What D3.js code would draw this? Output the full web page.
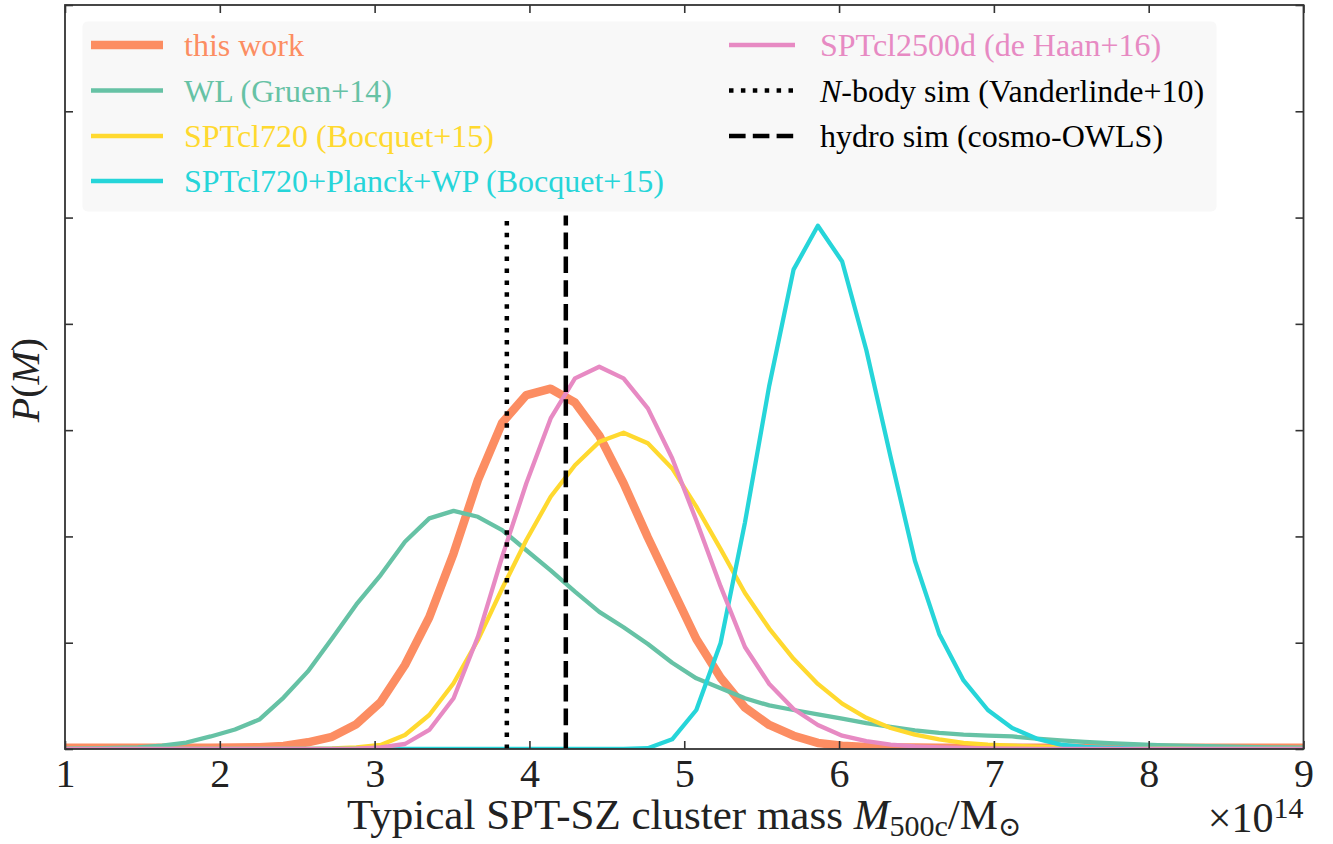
<!DOCTYPE html>
<html>
<head>
<meta charset="utf-8">
<script src="https://cdn.jsdelivr.net/npm/d3@7"></script>
<style>
  body { margin: 0; background: #fff; }
  text { font-family: "Liberation Serif", "DejaVu Serif", serif; }
</style>
</head>
<body>
<div id="chart"></div>
<script>

// ---------- DATA ----------

// mass grid in units of 1e14 Msun
var massGrid = [1.000, 1.157, 1.314, 1.471, 1.627, 1.784, 1.941, 2.098, 2.255, 2.412,
  2.569, 2.725, 2.882, 3.039, 3.196, 3.353, 3.510, 3.667, 3.824, 3.980,
  4.137, 4.294, 4.451, 4.608, 4.765, 4.922, 5.078, 5.235, 5.392, 5.549,
  5.706, 5.863, 6.020, 6.176, 6.333, 6.490, 6.647, 6.804, 6.961, 7.118,
  7.275, 7.431, 7.588, 7.745, 7.902, 8.059, 8.216, 8.373, 8.529, 8.686,
  8.843, 9.000];

var thisWork = [0.012, 0.012, 0.012, 0.012, 0.012, 0.012, 0.012, 0.013, 0.016, 0.028,
  0.063, 0.115, 0.233, 0.442, 0.790, 1.240, 1.840, 2.530, 3.070, 3.330,
  3.390, 3.260, 2.950, 2.500, 1.990, 1.510, 1.035, 0.670, 0.390, 0.226,
  0.125, 0.057, 0.031, 0.020, 0.015, 0.013, 0.012, 0.012, 0.012, 0.012,
  0.012, 0.012, 0.012, 0.012, 0.012, 0.012, 0.012, 0.012, 0.012, 0.012,
  0.012, 0.012];

var wlGruen = [0.004, 0.006, 0.010, 0.016, 0.032, 0.061, 0.118, 0.183, 0.277, 0.484,
  0.730, 1.040, 1.360, 1.637, 1.950, 2.170, 2.240, 2.185, 2.060, 1.870,
  1.680, 1.480, 1.290, 1.145, 0.988, 0.812, 0.665, 0.571, 0.477, 0.410,
  0.367, 0.326, 0.286, 0.243, 0.209, 0.175, 0.151, 0.135, 0.125, 0.118,
  0.098, 0.082, 0.068, 0.056, 0.045, 0.037, 0.031, 0.026, 0.021, 0.017,
  0.014, 0.012];

var sptcl720 = [0.000, 0.000, 0.000, 0.000, 0.000, 0.000, 0.000, 0.000, 0.000, 0.000,
  0.002, 0.006, 0.016, 0.038, 0.132, 0.320, 0.618, 1.025, 1.510, 1.966,
  2.373, 2.670, 2.890, 2.976, 2.876, 2.640, 2.280, 1.880, 1.467, 1.133,
  0.848, 0.612, 0.427, 0.293, 0.198, 0.135, 0.091, 0.058, 0.041, 0.031,
  0.022, 0.016, 0.012, 0.009, 0.006, 0.004, 0.003, 0.002, 0.001, 0.001,
  0.001, 0.001];

var sptcl720Planck = [0.000, 0.000, 0.000, 0.000, 0.000, 0.000, 0.000, 0.000, 0.000, 0.000,
  0.000, 0.000, 0.000, 0.000, 0.000, 0.000, 0.000, 0.000, 0.000, 0.000,
  0.000, 0.000, 0.000, 0.000, 0.008, 0.091, 0.367, 0.998, 2.130, 3.418,
  4.510, 4.923, 4.587, 3.754, 2.747, 1.771, 1.083, 0.645, 0.367, 0.198,
  0.098, 0.041, 0.020, 0.010, 0.005, 0.002, 0.001, 0.001, 0.001, 0.001,
  0.001, 0.001];

var sptcl2500d = [0.000, 0.000, 0.000, 0.000, 0.000, 0.000, 0.000, 0.000, 0.000, 0.000,
  0.000, 0.000, 0.004, 0.016, 0.047, 0.179, 0.477, 1.056, 1.810, 2.500,
  3.110, 3.487, 3.597, 3.487, 3.205, 2.735, 2.150, 1.530, 0.960, 0.612,
  0.377, 0.226, 0.125, 0.075, 0.041, 0.025, 0.015, 0.009, 0.005, 0.003,
  0.002, 0.001, 0.001, 0.001, 0.001, 0.001, 0.001, 0.001, 0.001, 0.001,
  0.001, 0.001];

// simulation predictions (vertical markers)
var nbodyMass = 3.854;
var hydroMass = 4.235;
var markerTop = 5.02;

var xTicks = [1, 2, 3, 4, 5, 6, 7, 8, 9];
var yTicks = [0, 1, 2, 3, 4, 5, 6, 7];

// ---------- SVG SET-UP ----------

var svgWidth = 1333;
var svgHeight = 844;
var margin = { top: 5, right: 29.5, bottom: 95, left: 65 };
var width = svgWidth - margin.left - margin.right;
var height = svgHeight - margin.top - margin.bottom;

var svg = d3.select("#chart")
  .append("svg")
  .attr("width", svgWidth)
  .attr("height", svgHeight);

var chart = svg.append("g")
  .attr("transform", `translate(${margin.left}, ${margin.top})`);

chart.append("defs").append("clipPath")
  .attr("id", "plot-clip")
  .append("rect")
  .attr("width", width)
  .attr("height", height);

// ---------- SCALES ----------

var x = d3.scaleLinear().domain([1, 9]).range([0, width]);
var y = d3.scaleLinear().domain([0, 7]).range([height, 0]);

// ---------- CURVES ----------

var series = [
  { label: "this work", values: thisWork, color: "#fc8d62", width: 8.5 },
  { label: "WL (Gruen+14)", values: wlGruen, color: "#66c2a5", width: 4.3 },
  { label: "SPTcl720 (Bocquet+15)", values: sptcl720, color: "#ffd92f", width: 4.3 },
  { label: "SPTcl720+Planck+WP (Bocquet+15)", values: sptcl720Planck, color: "#26d5d9", width: 4.3 },
  { label: "SPTcl2500d (de Haan+16)", values: sptcl2500d, color: "#e78ac3", width: 4.3 }
];

var line = d3.line()
  .x(d => x(d[0]))
  .y(d => y(d[1]));

var curves = chart.append("g").attr("clip-path", "url(#plot-clip)");

curves.selectAll("path.curve")
  .data(series)
  .enter()
  .append("path")
  .attr("class", "curve")
  .attr("d", s => line(massGrid.map((m, i) => [m, s.values[i]])))
  .attr("fill", "none")
  .attr("stroke", s => s.color)
  .attr("stroke-width", s => s.width)
  .attr("stroke-linejoin", "round");

// simulation markers, drawn from the bottom up
var markers = [
  { label: "N-body", mass: nbodyMass, dash: "4.5,7.4" },
  { label: "hydro", mass: hydroMass, dash: "16.6,7.2" }
];

curves.selectAll("path.marker")
  .data(markers)
  .enter()
  .append("path")
  .attr("class", "marker")
  .attr("d", m => line([[m.mass, 0], [m.mass, markerTop]]))
  .attr("stroke", "#000")
  .attr("stroke-width", 4.5)
  .attr("stroke-dasharray", m => m.dash);

// ---------- AXES (ticks inside, on all four sides) ----------

var tickLen = 8;
var axisColor = "#333";

chart.append("g")
  .attr("transform", `translate(0, ${height})`)
  .call(d3.axisBottom(x).tickValues(xTicks).tickSize(-tickLen).tickPadding(10).tickFormat(d3.format("d")));

chart.append("g")
  .call(d3.axisTop(x).tickValues(xTicks).tickSize(-tickLen).tickFormat(""));

chart.append("g")
  .call(d3.axisLeft(y).tickValues(yTicks).tickSize(-tickLen).tickFormat(""));

chart.append("g")
  .attr("transform", `translate(${width}, 0)`)
  .call(d3.axisRight(y).tickValues(yTicks).tickSize(-tickLen).tickFormat(""));

chart.selectAll(".domain").remove();
chart.selectAll(".tick line")
  .attr("stroke", axisColor)
  .attr("stroke-width", 1.6);
chart.selectAll(".tick text")
  .attr("font-family", "Liberation Serif")
  .attr("font-size", 40)
  .attr("fill", "#222");

chart.append("rect")
  .attr("width", width)
  .attr("height", height)
  .attr("fill", "none")
  .attr("stroke", axisColor)
  .attr("stroke-width", 1.8);

// ---------- AXIS LABELS ----------

var xLabel = svg.append("text")
  .attr("x", margin.left + width / 2)
  .attr("y", 829)
  .attr("text-anchor", "middle")
  .attr("font-size", 43)
  .attr("fill", "#222");
xLabel.append("tspan").text("Typical SPT-SZ cluster mass ");
xLabel.append("tspan").attr("font-style", "italic").text("M");
xLabel.append("tspan").attr("font-size", 30).attr("dy", 7).text("500c");
xLabel.append("tspan").attr("dy", -7).text("/M");
xLabel.append("tspan").attr("font-size", 28).attr("dy", 7).attr("font-family", "DejaVu Serif").text("\u2299");

var offsetText = svg.append("text")
  .attr("x", margin.left + width)
  .attr("y", 832)
  .attr("text-anchor", "end")
  .attr("font-size", 42)
  .attr("fill", "#222");
offsetText.append("tspan").text("\u00d710");
offsetText.append("tspan").attr("font-size", 30).attr("dy", -14).text("14");

var yLabel = svg.append("text")
  .attr("transform", `translate(39, ${margin.top + 375}) rotate(-90)`)
  .attr("text-anchor", "middle")
  .attr("font-size", 40)
  .attr("fill", "#222");
yLabel.append("tspan").attr("font-style", "italic").text("P");
yLabel.append("tspan").text("(");
yLabel.append("tspan").attr("font-style", "italic").text("M");
yLabel.append("tspan").text(")");

// ---------- LEGEND ----------

var legend = svg.append("g");

legend.append("rect")
  .attr("x", 82.5)
  .attr("y", 21.5)
  .attr("width", 1134)
  .attr("height", 190)
  .attr("rx", 5)
  .attr("fill", "#f8f8f8");

var rowY = [45, 90.5, 136, 181];

var legendItems = series.map((s, i) => ({
  label: s.label,
  color: s.color,
  width: s.width,
  dash: null,
  col: i < 4 ? 0 : 1,
  row: i < 4 ? i : i - 4
}));
legendItems.push({ label: "N-body sim (Vanderlinde+10)", color: "#000", width: 4.5, dash: markers[0].dash, col: 1, row: 1 });
legendItems.push({ label: "hydro sim (cosmo-OWLS)", color: "#000", width: 4.5, dash: markers[1].dash, col: 1, row: 2 });

var colLine = [[91, 163], [729, 795]];
var colText = [184, 820];

var entry = legend.selectAll("g.entry")
  .data(legendItems)
  .enter()
  .append("g")
  .attr("class", "entry");

entry.append("line")
  .attr("x1", d => colLine[d.col][0])
  .attr("x2", d => colLine[d.col][1])
  .attr("y1", d => rowY[d.row])
  .attr("y2", d => rowY[d.row])
  .attr("stroke", d => d.color)
  .attr("stroke-width", d => d.width)
  .attr("stroke-dasharray", d => d.dash);

entry.append("text")
  .attr("x", d => colText[d.col])
  .attr("y", d => rowY[d.row] + 11)
  .attr("font-size", 32)
  .attr("fill", d => d.color)
  .each(function(d) {
    var t = d3.select(this);
    if (d.label.indexOf("N-body") === 0) {
      t.append("tspan").attr("font-style", "italic").text("N");
      t.append("tspan").text(d.label.slice(1));
    } else {
      t.text(d.label);
    }
  });

</script>
</body>
</html>
